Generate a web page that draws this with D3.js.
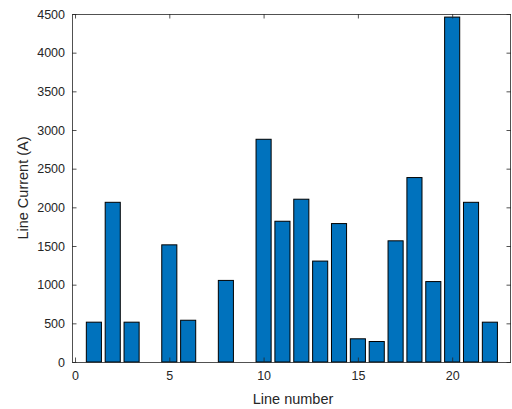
<!DOCTYPE html>
<html><head><meta charset="utf-8">
<script src="https://cdn.jsdelivr.net/npm/d3@7"></script>
<style>body{margin:0;background:#fff}svg{display:block}</style>
</head><body>
<svg id="c" width="512" height="409"></svg>
<script>
const lineNumbers = [1,2,3,4,5,6,7,8,9,10,11,12,13,14,15,16,17,18,19,20,21,22];
const lineCurrent = [515,2065,515,0,1515,540,0,1055,0,2880,1820,2105,1305,1790,300,265,1567,2385,1040,4460,2065,515];
const xTicks = [0,5,10,15,20];
const yTicks = [0,500,1000,1500,2000,2500,3000,3500,4000,4500];

const svg = d3.select("#c");
const L = 72, R = 511, T = 14, B = 362;
const x = d3.scaleLinear().domain([-0.16, 23.12]).range([L, R]);
const y = d3.scaleLinear().domain([0, 4500]).range([B, T]);
const axCol = "#262626";
const font = "'Liberation Sans', Arial, Helvetica, sans-serif";

// bars
const bw = x(0.8) - x(0);
svg.append("g").selectAll("rect").data(lineNumbers.map((n,i)=>({n, v: lineCurrent[i]})).filter(d=>d.v>0))
  .join("rect")
  .attr("x", d => x(d.n) - bw/2)
  .attr("y", d => y(d.v))
  .attr("width", bw)
  .attr("height", d => y(0) - y(d.v))
  .attr("fill", "#0072BD")
  .attr("stroke", "#000")
  .attr("stroke-width", 1);

// axes
const xAxis = d3.axisBottom(x).tickValues(xTicks).tickSize(-4.5).tickPadding(9.5).tickFormat(d3.format("d"));
const xAxisTop = d3.axisTop(x).tickValues(xTicks).tickSize(-4.5).tickFormat("");
const yAxis = d3.axisLeft(y).tickValues(yTicks).tickSize(-4.5).tickPadding(7).tickFormat(d3.format("d"));
const yAxisR = d3.axisRight(y).tickValues(yTicks).tickSize(-4.5).tickFormat("");

function style(g){
  g.select(".domain").remove();
  g.selectAll("line").attr("stroke", axCol).attr("stroke-width", 0.8);
  g.selectAll("text").attr("fill", axCol).style("font-family", font).style("font-size", "12.5px");
}
svg.append("g").attr("transform", `translate(0,${B})`).call(xAxis).call(style);
svg.append("g").attr("transform", `translate(0,${T})`).call(xAxisTop).call(style);
svg.append("g").attr("transform", `translate(${L},0)`).call(yAxis).call(style);
svg.append("g").attr("transform", `translate(${R},0)`).call(yAxisR).call(style);

// box
svg.append("path")
  .attr("d", `M${L+0.5},${T+0.5}H${R}M${L+0.5},${T+0.5}V${B+0.5}H${R}`)
  .attr("fill","none").attr("stroke", axCol).attr("stroke-width", 1).attr("stroke-opacity", 0.8);
svg.append("line").attr("x1", R-0.5).attr("x2", R-0.5).attr("y1", T).attr("y2", B)
  .attr("stroke", axCol).attr("stroke-width", 1).attr("stroke-opacity", 0.8);

// labels
svg.append("text").attr("x", 293).attr("y", 404)
  .attr("text-anchor","middle").attr("fill", axCol)
  .style("font-family", font).style("font-size","14.5px").text("Line number");
svg.append("text").attr("transform", `translate(28,${(T+B)/2}) rotate(-90)`)
  .attr("text-anchor","middle").attr("fill", axCol)
  .style("font-family", font).style("font-size","14.5px").text("Line Current (A)");
</script>
</body></html>
